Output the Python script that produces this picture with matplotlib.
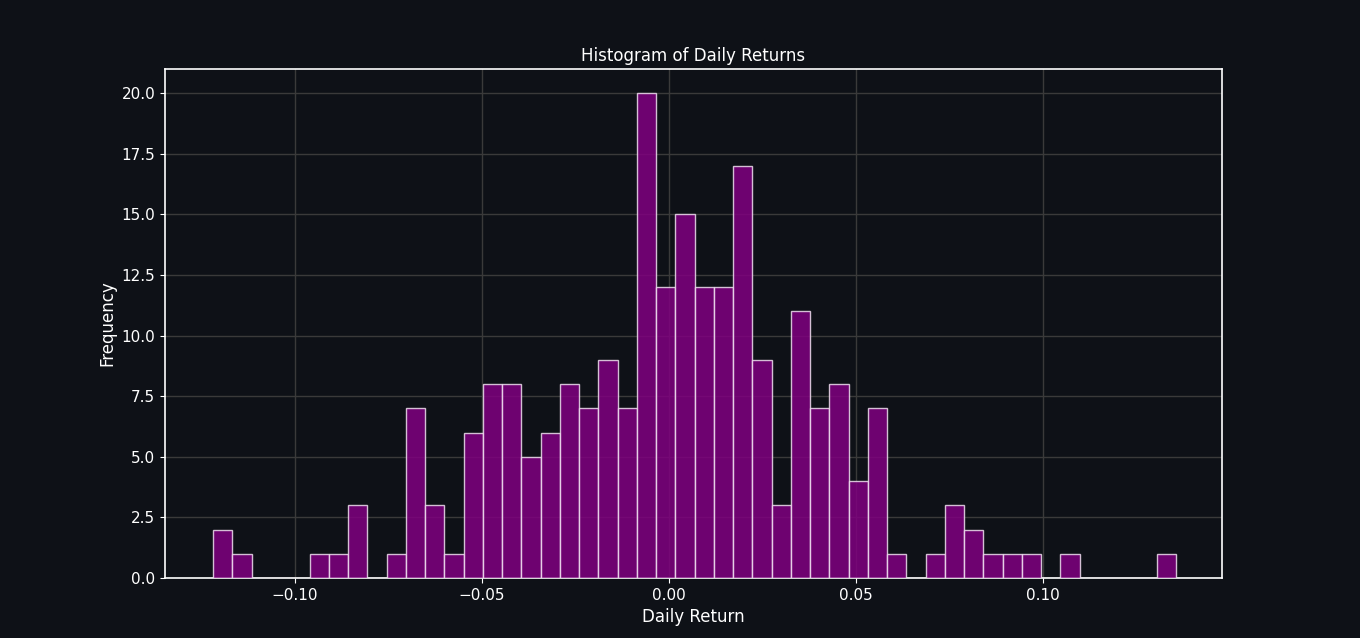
import numpy as np
import matplotlib.pyplot as plt

# histogram of daily returns, 50 bins
bin_start = -0.1219
bin_end = 0.1356
counts = [2, 1, 0, 0, 0, 1, 1, 3, 0, 1,
          7, 3, 1, 6, 8, 8, 5, 6, 8, 7,
          9, 7, 20, 12, 15, 12, 12, 17, 9, 3,
          11, 7, 8, 4, 7, 1, 0, 1, 3, 2,
          1, 1, 1, 0, 1, 0, 0, 0, 0, 1]

bg = "#0e1117"
edges = np.linspace(bin_start, bin_end, len(counts) + 1)
centers = (edges[:-1] + edges[1:]) / 2

fig = plt.figure(figsize=(13.6, 6.38), dpi=100, facecolor=bg)
ax = fig.add_axes([165 / 1360, 1 - 578 / 638, (1222 - 165) / 1360, (578 - 69) / 638])
ax.set_facecolor(bg)

ax.hist(centers, bins=edges, weights=counts, color="#800080", alpha=0.85,
        edgecolor="#f0e0f0", linewidth=1, zorder=3)

ax.set_xlim(-0.1348, 0.1479)
ax.set_ylim(0, 21)
ax.set_yticks(np.arange(0, 20.1, 2.5))
ax.set_xticks([-0.10, -0.05, 0.0, 0.05, 0.10])
ax.grid(True, color="#3a3a3a", linewidth=1, zorder=0)

for s in ax.spines.values():
    s.set_color("white")
    s.set_linewidth(1.2)
ax.tick_params(colors="white", labelsize=11)

ax.set_title("Histogram of Daily Returns", color="white", fontsize=12)
ax.set_xlabel("Daily Return", color="white", fontsize=12)
ax.set_ylabel("Frequency", color="white", fontsize=12)

fig.savefig("out.png", facecolor=bg)
